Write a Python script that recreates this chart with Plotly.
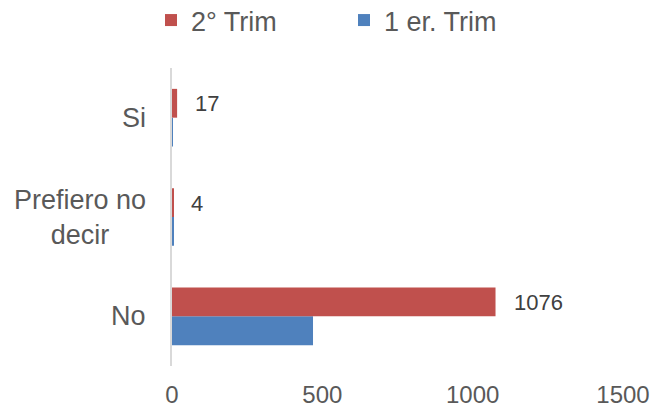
import plotly.graph_objects as go

categories = ["No", "Prefiero no decir", "Si"]
category_labels = ["No", "Prefiero no<br>decir", "Si"]
trim1_values = [469, 5, 3]
trim2_values = [1076, 4, 17]
x_ticks = [0, 500, 1000, 1500]

RED = "#C0504D"
BLUE = "#4F81BD"
TEXT = "#595959"
FONT = "Liberation Sans, Arial, sans-serif"

fig = go.Figure()
fig.add_trace(go.Bar(
    y=categories, x=trim1_values, orientation="h", name="1 er. Trim",
    marker=dict(color=BLUE, line=dict(width=0)),
))
fig.add_trace(go.Bar(
    y=categories, x=trim2_values, orientation="h", name="2° Trim",
    marker=dict(color=RED, line=dict(width=0)),
))

annotations = []
for cat, lab in zip(categories, category_labels):
    annotations.append(dict(
        x=0, xref="paper", y=cat, yref="y", text=lab, showarrow=False,
        xanchor="right", yanchor="middle", align="center", xshift=-24,
        font=dict(family=FONT, size=27, color=TEXT),
    ))
for cat, v in zip(categories, trim2_values):
    annotations.append(dict(
        x=v, xref="x", y=cat, yref="y", text=str(v), showarrow=False,
        xanchor="left", yanchor="middle", xshift=16, yshift=14,
        font=dict(family=FONT, size=22, color="#404040"),
    ))

fig.update_layout(
    width=652, height=405, autosize=False,
    paper_bgcolor="white", plot_bgcolor="white",
    margin=dict(l=172, r=29, t=68, b=39, autoexpand=False),
    barmode="group", bargap=0.42, bargroupgap=0,
    font=dict(family=FONT, color=TEXT),
    showlegend=True,
    legend=dict(
        orientation="h", traceorder="reversed",
        xref="container", yref="paper",
        x=151 / 652, y=1.2416, xanchor="left", yanchor="top",
        font=dict(family=FONT, size=27, color=TEXT),
        entrywidth=148, entrywidthmode="pixels",
        bgcolor="rgba(0,0,0,0)",
    ),
    xaxis=dict(
        range=[0, 1500], tickvals=x_ticks, ticktext=[str(t) for t in x_ticks],
        showgrid=False, zeroline=False, showline=False, automargin=False,
        ticks="outside", ticklen=7, tickcolor="rgba(0,0,0,0)",
        tickfont=dict(family=FONT, size=24, color=TEXT),
        fixedrange=True,
    ),
    yaxis=dict(
        type="category", categoryorder="array", categoryarray=categories,
        showticklabels=False, showgrid=False, zeroline=False, automargin=False,
        showline=True, linecolor="#D9D9D9", linewidth=2,
        fixedrange=True,
    ),
    annotations=annotations,
)

fig.write_html(
    "out.html",
    config={"displayModeBar": False},
    post_script="document.body.style.margin='0';document.body.style.overflow='hidden';",
)
